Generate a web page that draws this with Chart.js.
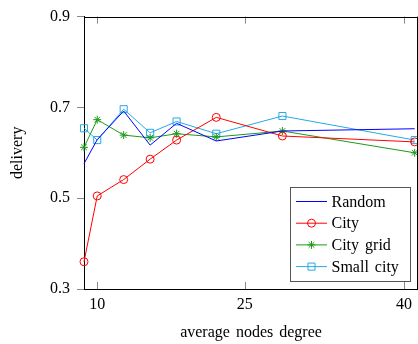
<!DOCTYPE html>
<html>
<head>
<meta charset="utf-8">
<script src="https://cdn.jsdelivr.net/npm/chart.js@4"></script>
<style>
  html, body { margin: 0; padding: 0; overflow: hidden; background: #fff; }
  #wrap { width: 418px; height: 344px; overflow: hidden; }
</style>
</head>
<body>
<div id="wrap"><canvas id="c" width="424" height="344"></canvas></div>
<script>
// x positions of the measurements (axis units)
const xPos = [0, 1, 3, 5, 7, 10, 15, 25];

// tick positions and their labels on the x axis
const xTickPos = [1, 12.15, 24.2];
const xTickLabels = ['10', '25', '40'];

const yTickLabels = ['0.3', '0.5', '0.7', '0.9'];

// delivery per network type
const random    = [0.576, 0.629, 0.692, 0.617, 0.665, 0.626, 0.648, 0.653];
const city      = [0.360, 0.505, 0.541, 0.586, 0.628, 0.678, 0.637, 0.624];
const cityGrid  = [0.612, 0.673, 0.639, 0.633, 0.642, 0.635, 0.648, 0.600];
const smallCity = [0.654, 0.628, 0.696, 0.644, 0.669, 0.642, 0.681, 0.628];

const FONT = 'Liberation Serif';
const SIZE = 16;

function pts(ys) {
    return ys.map((y, i) => ({ x: xPos[i], y: y }));
}

function drawMark(ctx, style, r, x, y) {
    ctx.beginPath();
    if (style === 'circle') {
        ctx.arc(x, y, r, 0, Math.PI * 2);
    } else if (style === 'rect') {
        const s = Math.SQRT1_2 * r;
        ctx.rect(x - s, y - s, 2 * s, 2 * s);
    } else if (style === 'star') {
        for (let k = 0; k < 4; k++) {
            const a = k * Math.PI / 4;
            ctx.moveTo(x - r * Math.cos(a), y - r * Math.sin(a));
            ctx.lineTo(x + r * Math.cos(a), y + r * Math.sin(a));
        }
    }
    ctx.stroke();
}

// frame, inside ticks and the legend box
const framePlugin = {
    id: 'frame',
    beforeDraw(chart) {
        chart.ctx.wordSpacing = '2px';
    },
    afterDatasetsDraw(chart) {
        const ctx = chart.ctx;
        const a = chart.chartArea;
        const xs = chart.scales.x;
        ctx.save();
        ctx.strokeStyle = '#888';
        ctx.lineWidth = 1;
        xTickPos.forEach(v => {
            const px = Math.round(xs.getPixelForValue(v)) + 0.5;
            ctx.beginPath();
            ctx.moveTo(px, a.bottom);
            ctx.lineTo(px, a.bottom - 7);
            ctx.moveTo(px, a.top);
            ctx.lineTo(px, a.top + 7);
            ctx.stroke();
        });
        ctx.strokeStyle = '#000';
        ctx.beginPath();
        ctx.moveTo(a.left, Math.round(a.top) + 0.5);
        ctx.lineTo(a.right, Math.round(a.top) + 0.5);
        ctx.moveTo(Math.round(a.right) - 0.5, a.top);
        ctx.lineTo(Math.round(a.right) - 0.5, a.bottom);
        ctx.stroke();

        // legend
        const bx = 290.5, by = 187.5, bw = 120, bh = 94;
        ctx.fillStyle = '#fff';
        ctx.fillRect(bx, by, bw, bh);
        ctx.strokeStyle = '#555';
        ctx.strokeRect(bx, by, bw, bh);
        ctx.font = SIZE + 'px "' + FONT + '"';
        ctx.textBaseline = 'middle';
        chart.data.datasets.forEach((ds, i) => {
            const y = 201.5 + i * 21.7;
            ctx.strokeStyle = ds.borderColor;
            ctx.lineWidth = 1;
            ctx.beginPath();
            ctx.moveTo(296, y);
            ctx.lineTo(327, y);
            ctx.stroke();
            if (ds.pointRadius > 0) {
                drawMark(ctx, ds.pointStyle, ds.pointRadius, 311.5, y);
            }
            ctx.fillStyle = '#000';
            ctx.fillText(ds.label, 331.5, y + 1);
        });
        ctx.restore();
    }
};

const baseDs = {
    borderWidth: 1,
    pointBorderWidth: 1,
    pointBackgroundColor: 'rgba(0,0,0,0)',
    tension: 0,
    clip: 6
};

new Chart(document.getElementById('c'), {
    type: 'line',
    data: {
        datasets: [
            Object.assign({}, baseDs, { label: 'Random', data: pts(random), borderColor: '#0000ff', pointRadius: 0, pointStyle: 'circle' }),
            Object.assign({}, baseDs, { label: 'City', data: pts(city), borderColor: '#ff0000', pointBorderColor: '#ff0000', pointRadius: 4, pointStyle: 'circle' }),
            Object.assign({}, baseDs, { label: 'City grid', data: pts(cityGrid), borderColor: '#1a9a1a', pointBorderColor: '#1a9a1a', pointRadius: 4, pointStyle: 'star' }),
            Object.assign({}, baseDs, { label: 'Small city', data: pts(smallCity), borderColor: '#27a9e6', pointBorderColor: '#27a9e6', pointRadius: 5, pointStyle: 'rect' })
        ]
    },
    options: {
        responsive: false,
        animation: false,
        events: [],
        layout: { padding: { left: 0, top: 11, right: 4, bottom: 0 } },
        plugins: {
            legend: { display: false },
            tooltip: { enabled: false }
        },
        scales: {
            x: {
                type: 'linear',
                min: 0,
                max: 25.25,
                afterBuildTicks: axis => {
                    axis.ticks = xTickPos.map(v => ({ value: v }));
                },
                afterFit: axis => { axis.height = 55; },
                ticks: {
                    autoSkip: false,
                    maxRotation: 0,
                    padding: 6,
                    color: '#000',
                    font: { family: FONT, size: SIZE },
                    callback: (v, i) => xTickLabels[i]
                },
                grid: { display: true, drawOnChartArea: false, drawTicks: false },
                border: { color: '#000', width: 1 },
                title: {
                    display: true,
                    text: 'average nodes degree',
                    color: '#000',
                    font: { family: FONT, size: SIZE },
                    padding: { top: 0, bottom: 2 }
                }
            },
            y: {
                min: 0.3,
                max: 0.9,
                afterBuildTicks: axis => {
                    axis.ticks = yTickLabels.map(v => ({ value: parseFloat(v) }));
                },
                afterFit: axis => { axis.width = 84; },
                ticks: {
                    padding: 7,
                    color: '#000',
                    font: { family: FONT, size: SIZE },
                    callback: (v, i) => yTickLabels[i]
                },
                grid: { drawOnChartArea: false, tickLength: 7, color: '#888' },
                border: { color: '#000', width: 1 },
                title: {
                    display: true,
                    text: 'delivery',
                    color: '#000',
                    font: { family: FONT, size: SIZE },
                    padding: { top: 8, bottom: 0 }
                }
            }
        }
    },
    plugins: [framePlugin]
});
</script>
</body>
</html>
